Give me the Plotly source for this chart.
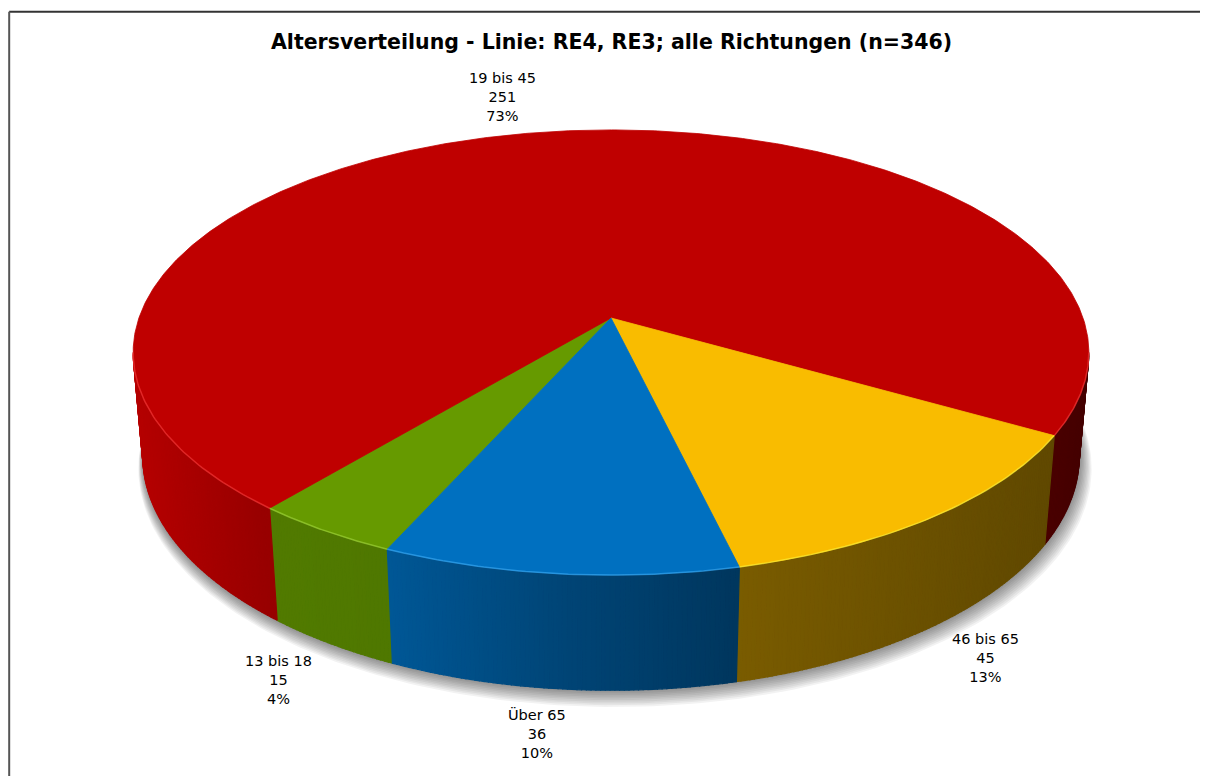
import numpy as np
import plotly.graph_objects as go

# ---------------- data ----------------
categories = ["13 bis 18", "19 bis 45", "46 bis 65", "Über 65"]
counts = [15, 251, 45, 36]
percent_labels = [4, 73, 13, 10]
title_text = "Altersverteilung - Linie: RE4, RE3; alle Richtungen (n=346)"

# ---------------- style ----------------
top_colors = ["#669A00", "#BF0000", "#F9BC00", "#0070C0"]
label_pos = [(278, 680), (502, 97), (985, 658), (537, 733)]  # pixel positions of label blocks
W, H = 1208, 784
BODY = 8               # page body margin
START = 204.0          # first slice begins at this angle (clockwise from back)
CX, CY = 611.0, 318.0  # screen position of pie centre (top face)
ELEV = np.radians(27.4)
DIST = 5.73
FOC = 2705.0
THICK = 0.25
s_e, c_e = np.sin(ELEV), np.cos(ELEV)


def proj(theta_deg, yw):
    th = np.radians(np.asarray(theta_deg, dtype=float))
    x, z = np.sin(th), np.cos(th)
    depth = -yw * s_e + z * c_e + DIST
    X = CX + FOC * x / depth
    Y = CY - FOC * (yw * c_e + z * s_e) / depth
    return X, Y


def rgb(hexc):
    hexc = hexc.lstrip("#")
    return tuple(int(hexc[i:i + 2], 16) for i in (0, 2, 4))


def shade(hexc, f):
    r, g, b = rgb(hexc)
    return "rgb(%d,%d,%d)" % (min(255, r * f), min(255, g * f), min(255, b * f))


total = float(sum(counts))
angles = []
a = START
for v in counts:
    sweep = v / total * 360.0
    angles.append((a, a + sweep))
    a += sweep

fig = go.Figure()

# ---------------- shadow ----------------
ring = np.linspace(0, 360, 361)
bx, by = proj(ring, -THICK)
for k in range(1, 11):
    sc = 1 + 0.0018 * k
    xs = CX + (bx - CX) * sc + 0.4 * k
    ys = CY + (by - CY) * sc + 1.0 * k
    fig.add_trace(go.Scatter(x=xs, y=ys, mode="lines", fill="toself",
                             fillcolor="rgba(0,0,0,0.05)", line=dict(width=0),
                             hoverinfo="skip", showlegend=False))

# ---------------- side faces ----------------
vis_lo = np.degrees(np.arccos(-c_e / DIST))
vis_hi = 360 - vis_lo
shade_x = [133, 260, 390, 560, 740, 1050, 1095]
shade_f = [0.95, 0.80, 0.78, 0.62, 0.49, 0.39, 0.36]
for (a0, a1), col in zip(angles, top_colors):
    for off in (0.0, 360.0):
        lo = max(a0, vis_lo + off)
        hi = min(a1, vis_hi + off)
        if hi <= lo:
            continue
        n = max(2, int(np.ceil((hi - lo) / 0.5)))
        edges = np.linspace(lo, hi, n + 1)
        for i in range(n):
            t = np.linspace(edges[i], edges[i + 1], 3)
            tx, ty = proj(t, 0.0)
            ux, uy = proj(t[::-1], -THICK)
            f = float(np.interp(tx.mean(), shade_x, shade_f))
            c = shade(col, f)
            fig.add_trace(go.Scatter(x=np.r_[tx, ux, tx[:1]], y=np.r_[ty, uy, ty[:1]],
                                     mode="lines", fill="toself", fillcolor=c,
                                     line=dict(width=1.2, color=c),
                                     hoverinfo="skip", showlegend=False))

# ---------------- top faces ----------------
for (a0, a1), col, cat in zip(angles, top_colors, categories):
    t = np.linspace(a0, a1, max(3, int((a1 - a0) * 2)))
    tx, ty = proj(t, 0.0)
    xs = np.r_[CX, tx, CX]
    ys = np.r_[CY, ty, CY]
    fig.add_trace(go.Scatter(x=xs, y=ys, mode="lines", fill="toself", fillcolor=col,
                             line=dict(width=0.8, color=col), name=cat,
                             hoverinfo="name", showlegend=False))

# bevel highlight along front rim
for (a0, a1), col in zip(angles, top_colors):
    for off in (0.0, 360.0):
        lo = max(a0, vis_lo + off)
        hi = min(a1, vis_hi + off)
        if hi <= lo:
            continue
        t = np.linspace(lo, hi, 60)
        tx, ty = proj(t, 0.0)
        r, g, b = rgb(col)
        hl = "rgba(%d,%d,%d,0.55)" % (min(255, r + 70), min(255, g + 70), min(255, b + 70))
        fig.add_trace(go.Scatter(x=tx, y=ty, mode="lines", line=dict(width=1.5, color=hl),
                                 hoverinfo="skip", showlegend=False))

# ---------------- labels ----------------
annotations = []
for cat, v, p, (lx, ly) in zip(categories, counts, percent_labels, label_pos):
    annotations.append(dict(x=lx, y=ly, xref="x", yref="y", showarrow=False,
                            text=f"{cat}<br>{v}<br>{p}%", align="center",
                            font=dict(family="DejaVu Sans", size=14.5, color="#000000")))
annotations.append(dict(x=611, y=42, xref="x", yref="y", showarrow=False,
                        text=f"<b>{title_text}</b>",
                        font=dict(family="DejaVu Sans", size=20.5, color="#000000")))

fig.update_layout(
    width=W - 2 * BODY, height=H - 2 * BODY,
    margin=dict(l=0, r=0, t=0, b=0),
    paper_bgcolor="white", plot_bgcolor="white",
    xaxis=dict(range=[BODY, W - BODY], visible=False, fixedrange=True),
    yaxis=dict(range=[H - BODY, BODY], visible=False, fixedrange=True),
    annotations=annotations,
    shapes=[
        dict(type="line", xref="paper", yref="paper", x0=0.001, y0=0.995, x1=1.0, y1=0.995,
             line=dict(color="#333333", width=2)),
        dict(type="line", xref="paper", yref="paper", x0=0.001, y0=0.995, x1=0.001, y1=0.0,
             line=dict(color="#555555", width=2)),
    ],
    showlegend=False,
)

fig.write_html("out.html")
